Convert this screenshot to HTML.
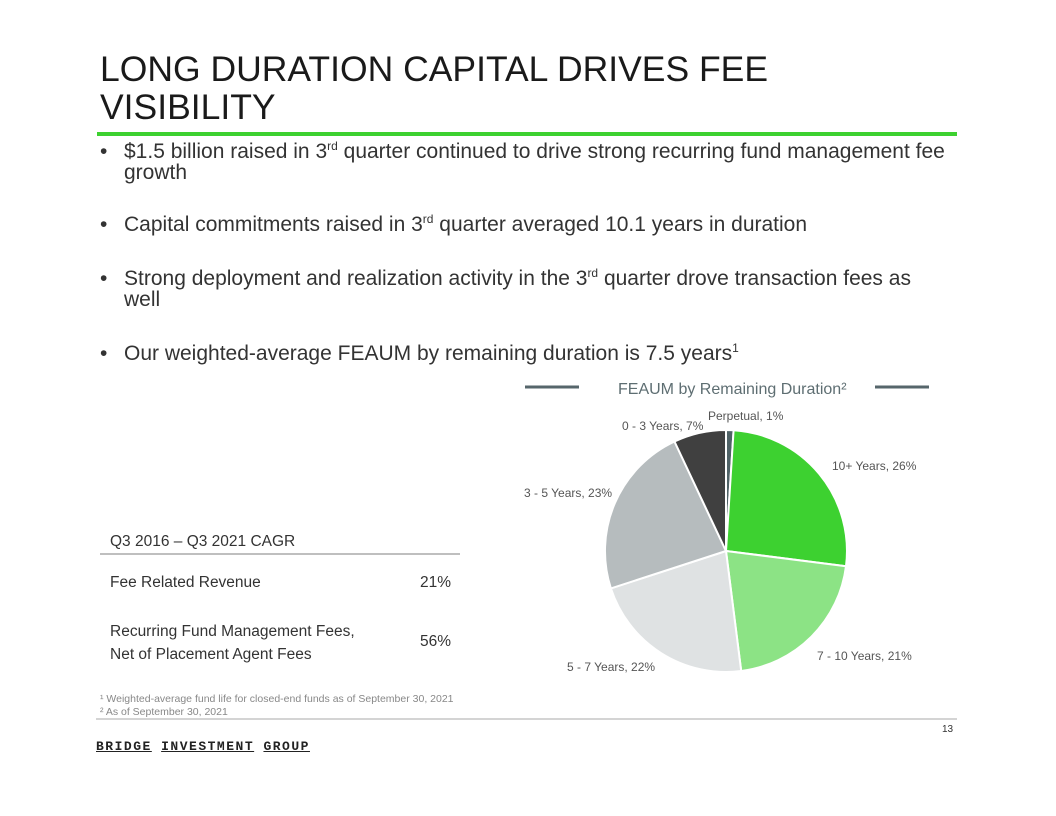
<!DOCTYPE html>
<html><head><meta charset="utf-8"><style>
body{margin:0;background:#fff;}
.p{position:relative;width:1056px;height:816px;overflow:hidden;font-family:"Liberation Sans",sans-serif;}
.a{position:absolute;white-space:nowrap;}
.t{left:100px;top:50px;font-size:35.5px;line-height:38px;color:#1a1a1a;}
.b{font-size:21px;color:#333;left:100px;line-height:21px;}
.b span.d{position:absolute;left:0;}
.b .x{position:absolute;left:24px;}
sup{font-size:12px;vertical-align:top;line-height:10px;}
.s{font-size:15.5px;color:#333;}
</style></head><body><div class="p">
<div class="a t">LONG DURATION CAPITAL DRIVES FEE<br>VISIBILITY</div>
<div class="a" style="left:97px;top:132px;width:860px;height:4px;background:#3dd130"></div>
<div class="a b" style="top:141px"><span class="d">•</span><span class="x">$1.5 billion raised in 3<sup>rd</sup> quarter continued to drive strong recurring fund management fee<br>growth</span></div>
<div class="a b" style="top:214px"><span class="d">•</span><span class="x">Capital commitments raised in 3<sup>rd</sup> quarter averaged 10.1 years in duration</span></div>
<div class="a b" style="top:268px"><span class="d">•</span><span class="x">Strong deployment and realization activity in the 3<sup>rd</sup> quarter drove transaction fees as<br>well</span></div>
<div class="a b" style="top:343px"><span class="d">•</span><span class="x">Our weighted-average FEAUM by remaining duration is 7.5 years<sup>1</sup></span></div>

<svg class="a" style="left:0;top:0" width="1056" height="816">
<line x1="525" y1="387" x2="579" y2="387" stroke="#56666b" stroke-width="3"/>
<line x1="875" y1="387" x2="929" y2="387" stroke="#56666b" stroke-width="3"/>
<text x="618" y="394" font-size="16" fill="#5e6e72" font-family="Liberation Sans">FEAUM by Remaining Duration²</text>
<g stroke="#fff" stroke-width="2">
<path d="M726,551 L726,430 A121,121 0 0 1 733.6,430.2Z" fill="#4f6266"/>
<path d="M726,551 L733.6,430.2 A121,121 0 0 1 846,566.2Z" fill="#3dd130"/>
<path d="M726,551 L846,566.2 A121,121 0 0 1 741.2,671Z" fill="#8ce385"/>
<path d="M726,551 L741.2,671 A121,121 0 0 1 610.9,588.4Z" fill="#dfe2e3"/>
<path d="M726,551 L610.9,588.4 A121,121 0 0 1 674.5,441.5Z" fill="#b6bcbe"/>
<path d="M726,551 L674.5,441.5 A121,121 0 0 1 726,430Z" fill="#404040"/>
</g>
<g font-size="12" fill="#555" font-family="Liberation Sans">
<text x="708" y="420">Perpetual, 1%</text>
<text x="622" y="430">0 - 3 Years, 7%</text>
<text x="832" y="470">10+ Years, 26%</text>
<text x="524" y="497">3 - 5 Years, 23%</text>
<text x="817" y="660">7 - 10 Years, 21%</text>
<text x="567" y="671">5 - 7 Years, 22%</text>
</g>
<line x1="100" y1="554" x2="460" y2="554" stroke="#aaa" stroke-width="1.5"/>
<line x1="96" y1="719" x2="957" y2="719" stroke="#aaa" stroke-width="1"/>
</svg>
<div class="a s" style="left:110px;top:533px">Q3 2016 – Q3 2021 CAGR</div>
<div class="a s" style="left:110px;top:574px">Fee Related Revenue</div>
<div class="a s" style="left:420px;top:574px">21%</div>
<div class="a s" style="left:110px;top:620px;line-height:23px">Recurring Fund Management Fees,<br>Net of Placement Agent Fees</div>
<div class="a s" style="left:420px;top:633px">56%</div>
<div class="a" style="left:100px;top:693px;font-size:10.5px;color:#888;line-height:13px">¹ Weighted-average fund life for closed-end funds as of September 30, 2021<br>² As of September 30, 2021</div>
<div class="a" style="left:942px;top:724px;font-size:10px;color:#333">13</div>
<div class="a" style="left:96px;top:739px;font-size:13px;font-weight:bold;letter-spacing:1.5px;color:#222;font-family:'Liberation Mono',monospace"><u>BRIDGE</u> <u>INVESTMENT</u> <u>GROUP</u></div>
</div></body></html>
